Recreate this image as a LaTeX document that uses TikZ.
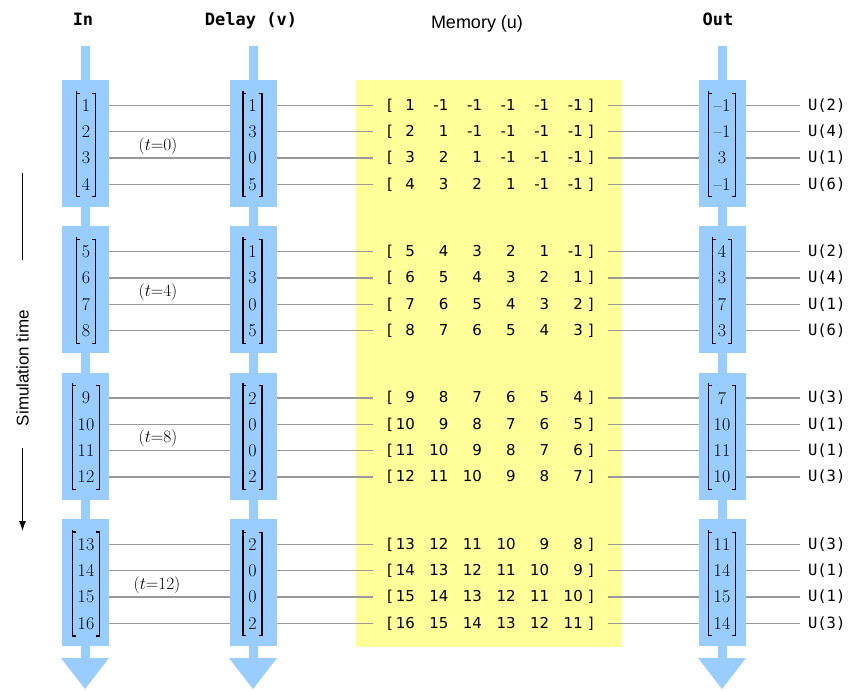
\documentclass[tikz,border=0pt]{standalone}
\usepackage{fontspec}
\usetikzlibrary{fit,backgrounds,arrows.meta}
\newfontfamily\memfont{DejaVu Sans}
\newfontfamily\monofont{DejaVu Sans Mono}
\newfontfamily\captfont{Liberation Sans}
\definecolor{blkblue}{HTML}{99CCFF}
\definecolor{memyellow}{HTML}{FFFF99}
\newcommand{\memrow}[6]{[\makebox[22pt][r]{#1}\makebox[33.6pt][r]{#2}\makebox[33.6pt][r]{#3}\makebox[33.6pt][r]{#4}\makebox[33.6pt][r]{#5}\makebox[33.6pt][r]{#6}\hspace{5pt}]}
\newcommand{\matbrack}[1]{%
  \draw[brkline] ([xshift=3.5pt]#1.north west) -- (#1.north west) -- (#1.south west) -- ([xshift=3.5pt]#1.south west);
  \draw[brkline] (#1.north west) -- ++(0pt,2.5pt);
  \draw[brkline] ([xshift=-3.5pt]#1.north east) -- (#1.north east) -- (#1.south east) -- ([xshift=-3.5pt]#1.south east);}

\begin{document}
\begin{tikzpicture}[
  blkbox/.style={fill=blkblue, minimum width=47pt, minimum height=127pt, inner sep=0pt},
  stemfill/.style={fill=blkblue},
  numnode/.style={inner sep=0pt, font=\fontsize{18}{21}\selectfont},
  memnode/.style={anchor=west, inner sep=0pt, outer xsep=14pt, font=\memfont\fontsize{15}{18}\selectfont},
  unode/.style={anchor=west, inner sep=0pt, outer xsep=8pt, font=\monofont\fontsize{15.5}{18}\selectfont},
  headnode/.style={anchor=base, font=\monofont\bfseries\fontsize{17}{20}\selectfont},
  memhead/.style={anchor=base, font=\captfont\fontsize{18}{20}\selectfont},
  simnode/.style={inner sep=0pt, rotate=90, font=\captfont\fontsize{17}{20}\selectfont},
  tlabel/.style={font=\fontsize{18}{20}\selectfont},
  brkfit/.style={inner xsep=5pt, inner ysep=6pt},
  brkline/.style={draw, line width=1.2pt},
  wire/.style={draw=black!40, line width=1.3pt},
  simline/.style={draw, line width=1.3pt},
]
  \useasboundingbox (0pt,0pt) rectangle (857pt,-691pt);
  \begin{pgfonlayer}{background}
    \fill[memyellow] (356pt,-80pt) rectangle (622pt,-647pt);
  \end{pgfonlayer}
  % headers
  \node[headnode] (hin) at (83.000pt,-25.000pt) {In};
  \node[headnode] (hdl) at (251.000pt,-25.000pt) {Delay (v)};
  \node[memhead] (hmem) at (477.000pt,-28.000pt) {Memory (u)};
  \node[headnode] (hout) at (718.000pt,-25.000pt) {Out};
  % stems and arrow heads
  \fill[stemfill] (80.500pt,-46pt) rectangle (89.500pt,-658pt);
  \fill[stemfill] (61.000pt,-658pt) -- (109.000pt,-658pt) -- (85.000pt,-689pt) -- cycle;
  \fill[stemfill] (248.500pt,-46pt) rectangle (257.500pt,-658pt);
  \fill[stemfill] (229.000pt,-658pt) -- (277.000pt,-658pt) -- (253.000pt,-689pt) -- cycle;
  \fill[stemfill] (717.500pt,-46pt) rectangle (726.500pt,-658pt);
  \fill[stemfill] (698.000pt,-658pt) -- (746.000pt,-658pt) -- (722.000pt,-689pt) -- cycle;
  % blocks
  \node[blkbox] (inb1) at (85.000pt,-143.500pt) {};
  \node[blkbox] (dlb1) at (253.000pt,-143.500pt) {};
  \node[blkbox] (outb1) at (722.000pt,-143.500pt) {};
  \node[blkbox] (inb2) at (85.000pt,-289.800pt) {};
  \node[blkbox] (dlb2) at (253.000pt,-289.800pt) {};
  \node[blkbox] (outb2) at (722.000pt,-289.800pt) {};
  \node[blkbox] (inb3) at (85.000pt,-436.100pt) {};
  \node[blkbox] (dlb3) at (253.000pt,-436.100pt) {};
  \node[blkbox] (outb3) at (722.000pt,-436.100pt) {};
  \node[blkbox] (inb4) at (85.000pt,-582.500pt) {};
  \node[blkbox] (dlb4) at (253.000pt,-582.500pt) {};
  \node[blkbox] (outb4) at (722.000pt,-582.500pt) {};
  % rows, t=0
  \node[numnode] (in1) at (86.000pt,-105.500pt) {1};
  \node[numnode] (dl1) at (252.500pt,-105.500pt) {1};
  \node[memnode] (mem1) at (373.000pt,-105.500pt) {\memrow{1}{-1}{-1}{-1}{-1}{-1}};
  \node[numnode] (out1) at (722.000pt,-105.500pt) {--1};
  \node[unode] (u1) at (800.000pt,-105.500pt) {U(2)};
  \node[numnode] (in2) at (86.000pt,-131.800pt) {2};
  \node[numnode] (dl2) at (252.500pt,-131.800pt) {3};
  \node[memnode] (mem2) at (373.000pt,-131.800pt) {\memrow{2}{1}{-1}{-1}{-1}{-1}};
  \node[numnode] (out2) at (722.000pt,-131.800pt) {--1};
  \node[unode] (u2) at (800.000pt,-131.800pt) {U(4)};
  \node[numnode] (in3) at (86.000pt,-158.100pt) {3};
  \node[numnode] (dl3) at (252.500pt,-158.100pt) {0};
  \node[memnode] (mem3) at (373.000pt,-158.100pt) {\memrow{3}{2}{1}{-1}{-1}{-1}};
  \node[numnode] (out3) at (722.000pt,-158.100pt) {3};
  \node[unode] (u3) at (800.000pt,-158.100pt) {U(1)};
  \node[numnode] (in4) at (86.000pt,-184.400pt) {4};
  \node[numnode] (dl4) at (252.500pt,-184.400pt) {5};
  \node[memnode] (mem4) at (373.000pt,-184.400pt) {\memrow{4}{3}{2}{1}{-1}{-1}};
  \node[numnode] (out4) at (722.000pt,-184.400pt) {--1};
  \node[unode] (u4) at (800.000pt,-184.400pt) {U(6)};
  % rows, t=4
  \node[numnode] (in5) at (86.000pt,-251.800pt) {5};
  \node[numnode] (dl5) at (252.500pt,-251.800pt) {1};
  \node[memnode] (mem5) at (373.000pt,-251.800pt) {\memrow{5}{4}{3}{2}{1}{-1}};
  \node[numnode] (out5) at (722.000pt,-251.800pt) {4};
  \node[unode] (u5) at (800.000pt,-251.800pt) {U(2)};
  \node[numnode] (in6) at (86.000pt,-278.100pt) {6};
  \node[numnode] (dl6) at (252.500pt,-278.100pt) {3};
  \node[memnode] (mem6) at (373.000pt,-278.100pt) {\memrow{6}{5}{4}{3}{2}{1}};
  \node[numnode] (out6) at (722.000pt,-278.100pt) {3};
  \node[unode] (u6) at (800.000pt,-278.100pt) {U(4)};
  \node[numnode] (in7) at (86.000pt,-304.400pt) {7};
  \node[numnode] (dl7) at (252.500pt,-304.400pt) {0};
  \node[memnode] (mem7) at (373.000pt,-304.400pt) {\memrow{7}{6}{5}{4}{3}{2}};
  \node[numnode] (out7) at (722.000pt,-304.400pt) {7};
  \node[unode] (u7) at (800.000pt,-304.400pt) {U(1)};
  \node[numnode] (in8) at (86.000pt,-330.700pt) {8};
  \node[numnode] (dl8) at (252.500pt,-330.700pt) {5};
  \node[memnode] (mem8) at (373.000pt,-330.700pt) {\memrow{8}{7}{6}{5}{4}{3}};
  \node[numnode] (out8) at (722.000pt,-330.700pt) {3};
  \node[unode] (u8) at (800.000pt,-330.700pt) {U(6)};
  % rows, t=8
  \node[numnode] (in9) at (86.000pt,-398.100pt) {9};
  \node[numnode] (dl9) at (252.500pt,-398.100pt) {2};
  \node[memnode] (mem9) at (373.000pt,-398.100pt) {\memrow{9}{8}{7}{6}{5}{4}};
  \node[numnode] (out9) at (722.000pt,-398.100pt) {7};
  \node[unode] (u9) at (800.000pt,-398.100pt) {U(3)};
  \node[numnode] (in10) at (86.000pt,-424.400pt) {10};
  \node[numnode] (dl10) at (252.500pt,-424.400pt) {0};
  \node[memnode] (mem10) at (373.000pt,-424.400pt) {\memrow{10}{9}{8}{7}{6}{5}};
  \node[numnode] (out10) at (722.000pt,-424.400pt) {10};
  \node[unode] (u10) at (800.000pt,-424.400pt) {U(1)};
  \node[numnode] (in11) at (86.000pt,-450.700pt) {11};
  \node[numnode] (dl11) at (252.500pt,-450.700pt) {0};
  \node[memnode] (mem11) at (373.000pt,-450.700pt) {\memrow{11}{10}{9}{8}{7}{6}};
  \node[numnode] (out11) at (722.000pt,-450.700pt) {11};
  \node[unode] (u11) at (800.000pt,-450.700pt) {U(1)};
  \node[numnode] (in12) at (86.000pt,-477.000pt) {12};
  \node[numnode] (dl12) at (252.500pt,-477.000pt) {2};
  \node[memnode] (mem12) at (373.000pt,-477.000pt) {\memrow{12}{11}{10}{9}{8}{7}};
  \node[numnode] (out12) at (722.000pt,-477.000pt) {10};
  \node[unode] (u12) at (800.000pt,-477.000pt) {U(3)};
  % rows, t=12
  \node[numnode] (in13) at (86.000pt,-544.500pt) {13};
  \node[numnode] (dl13) at (252.500pt,-544.500pt) {2};
  \node[memnode] (mem13) at (373.000pt,-544.500pt) {\memrow{13}{12}{11}{10}{9}{8}};
  \node[numnode] (out13) at (722.000pt,-544.500pt) {11};
  \node[unode] (u13) at (800.000pt,-544.500pt) {U(3)};
  \node[numnode] (in14) at (86.000pt,-570.800pt) {14};
  \node[numnode] (dl14) at (252.500pt,-570.800pt) {0};
  \node[memnode] (mem14) at (373.000pt,-570.800pt) {\memrow{14}{13}{12}{11}{10}{9}};
  \node[numnode] (out14) at (722.000pt,-570.800pt) {14};
  \node[unode] (u14) at (800.000pt,-570.800pt) {U(1)};
  \node[numnode] (in15) at (86.000pt,-597.100pt) {15};
  \node[numnode] (dl15) at (252.500pt,-597.100pt) {0};
  \node[memnode] (mem15) at (373.000pt,-597.100pt) {\memrow{15}{14}{13}{12}{11}{10}};
  \node[numnode] (out15) at (722.000pt,-597.100pt) {15};
  \node[unode] (u15) at (800.000pt,-597.100pt) {U(1)};
  \node[numnode] (in16) at (86.000pt,-623.400pt) {16};
  \node[numnode] (dl16) at (252.500pt,-623.400pt) {2};
  \node[memnode] (mem16) at (373.000pt,-623.400pt) {\memrow{16}{15}{14}{13}{12}{11}};
  \node[numnode] (out16) at (722.000pt,-623.400pt) {14};
  \node[unode] (u16) at (800.000pt,-623.400pt) {U(3)};
  % time labels
  \node[tlabel] (tl1) at (158.000pt,-146.000pt) {$(t{=}0)$};
  \node[tlabel] (tl2) at (158.000pt,-292.300pt) {$(t{=}4)$};
  \node[tlabel] (tl3) at (158.000pt,-438.600pt) {$(t{=}8)$};
  \node[tlabel] (tl4) at (157.000pt,-585.000pt) {$(t{=}12)$};
  % matrix brackets
  \node[brkfit, fit=(in1)(in4)] (inm1) {};
  \node[brkfit, fit=(dl1)(dl4)] (dlm1) {};
  \node[brkfit, fit=(out1)(out4)] (outm1) {};
  \node[brkfit, fit=(in5)(in8)] (inm2) {};
  \node[brkfit, fit=(dl5)(dl8)] (dlm2) {};
  \node[brkfit, fit=(out5)(out8)] (outm2) {};
  \node[brkfit, fit=(in9)(in10)(in11)(in12)] (inm3) {};
  \node[brkfit, fit=(dl9)(dl12)] (dlm3) {};
  \node[brkfit, fit=(out9)(out10)(out11)(out12)] (outm3) {};
  \node[brkfit, fit=(in13)(in14)(in15)(in16)] (inm4) {};
  \node[brkfit, fit=(dl13)(dl16)] (dlm4) {};
  \node[brkfit, fit=(out13)(out14)(out15)(out16)] (outm4) {};
  \matbrack{inm1}\matbrack{dlm1}\matbrack{outm1}
  \matbrack{inm2}\matbrack{dlm2}\matbrack{outm2}
  \matbrack{inm3}\matbrack{dlm3}\matbrack{outm3}
  \matbrack{inm4}\matbrack{dlm4}\matbrack{outm4}
  % wires
  \begin{pgfonlayer}{background}
    \draw[wire] (in1) -- (dl1) (dl1) -- (mem1) (mem1) -- (out1) (out1) -- (u1);
    \draw[wire] (in2) -- (dl2) (dl2) -- (mem2) (mem2) -- (out2) (out2) -- (u2);
    \draw[wire] (in3) -- (dl3) (dl3) -- (mem3) (mem3) -- (out3) (out3) -- (u3);
    \draw[wire] (in4) -- (dl4) (dl4) -- (mem4) (mem4) -- (out4) (out4) -- (u4);
    \draw[wire] (in5) -- (dl5) (dl5) -- (mem5) (mem5) -- (out5) (out5) -- (u5);
    \draw[wire] (in6) -- (dl6) (dl6) -- (mem6) (mem6) -- (out6) (out6) -- (u6);
    \draw[wire] (in7) -- (dl7) (dl7) -- (mem7) (mem7) -- (out7) (out7) -- (u7);
    \draw[wire] (in8) -- (dl8) (dl8) -- (mem8) (mem8) -- (out8) (out8) -- (u8);
    \draw[wire] (in9) -- (dl9) (dl9) -- (mem9) (mem9) -- (out9) (out9) -- (u9);
    \draw[wire] (in10) -- (dl10) (dl10) -- (mem10) (mem10) -- (out10) (out10) -- (u10);
    \draw[wire] (in11) -- (dl11) (dl11) -- (mem11) (mem11) -- (out11) (out11) -- (u11);
    \draw[wire] (in12) -- (dl12) (dl12) -- (mem12) (mem12) -- (out12) (out12) -- (u12);
    \draw[wire] (in13) -- (dl13) (dl13) -- (mem13) (mem13) -- (out13) (out13) -- (u13);
    \draw[wire] (in14) -- (dl14) (dl14) -- (mem14) (mem14) -- (out14) (out14) -- (u14);
    \draw[wire] (in15) -- (dl15) (dl15) -- (mem15) (mem15) -- (out15) (out15) -- (u15);
    \draw[wire] (in16) -- (dl16) (dl16) -- (mem16) (mem16) -- (out16) (out16) -- (u16);
  \end{pgfonlayer}
  % simulation time
  \node[simnode] (simtime) at (22.500pt,-368.000pt) {Simulation time};
  \coordinate (simtop) at (22.500pt,-173.000pt);
  \coordinate (simbot) at (22.500pt,-531.000pt);
  \draw[simline, shorten <=50pt] (simtime.east) -- (simtop);
  \draw[simline, -{Latex[length=10pt,width=7pt]}, shorten <=22pt] (simtime.west) -- (simbot);
\end{tikzpicture}
\end{document}
